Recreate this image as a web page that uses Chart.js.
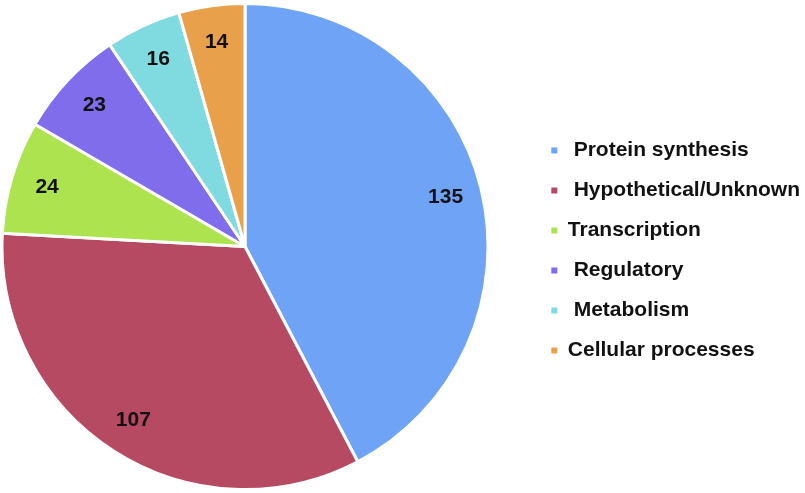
<!DOCTYPE html>
<html>
<head>
<meta charset="utf-8">
<script src="https://cdn.jsdelivr.net/npm/chart.js@4"></script>
<style>
  html, body { margin: 0; padding: 0; background: #fff; }
  #wrap { width: 805px; height: 493px; }
</style>
</head>
<body>
<div id="wrap"><canvas id="pieChart"></canvas></div>
<script>
const categories = [" Protein synthesis", " Hypothetical/Unknown", "Transcription", " Regulatory", " Metabolism", "Cellular processes"];
const counts = [135, 107, 24, 23, 16, 14];
const sliceColors = ["#6fa3f5", "#b54a62", "#ade34e", "#806dec", "#80dbe0", "#e8a04b"];

// slice value labels, drawn at ~85% of the radius
const sliceLabels = {
  id: "sliceLabels",
  afterDatasetsDraw(chart) {
    const ctx = chart.ctx;
    const meta = chart.getDatasetMeta(0);
    ctx.save();
    ctx.font = "bold 21px 'Liberation Sans', Arial, sans-serif";
    ctx.fillStyle = "#111";
    ctx.textAlign = "center";
    ctx.textBaseline = "middle";
    meta.data.forEach((arc, i) => {
      const p = arc.getProps(["x", "y", "startAngle", "endAngle", "outerRadius"], true);
      const mid = (p.startAngle + p.endAngle) / 2;
      const r = p.outerRadius * 0.85;
      ctx.fillText(String(counts[i]), p.x + Math.cos(mid) * r, p.y + Math.sin(mid) * r);
    });
    ctx.restore();
  }
};

// keep the pie on the left part of the canvas, nudge the legend a bit
const pieArea = {
  id: "pieArea",
  afterLayout(chart) {
    const ca = chart.chartArea;
    ca.left = 0;
    ca.right = 490;
    ca.width = 490;
    chart.legend.top += 4;
    chart.legend.bottom += 4;
    chart.legend.left += 5;
    chart.legend.right += 5;
  }
};

const pieChart = new Chart(document.getElementById("pieChart"), {
  type: "pie",
  data: {
    labels: categories,
    datasets: [{
      data: counts,
      backgroundColor: sliceColors,
      borderColor: "#ffffff",
      borderWidth: 3,
    }],
  },
  options: {
    responsive: true,
    maintainAspectRatio: false,
    animation: false,
    layout: { padding: { top: 2, bottom: 2, right: 0 } },
    plugins: {
      tooltip: { enabled: false },
      legend: {
        position: "right",
        labels: {
          boxWidth: 6,
          boxHeight: 6,
          padding: 19,
          color: "#111",
          font: { family: "'Liberation Sans', Arial, sans-serif", size: 21, weight: "bold" },
          generateLabels(chart) {
            const items = Chart.overrides.pie.plugins.legend.labels.generateLabels(chart);
            return items.map(it => ({ ...it, lineWidth: 0, strokeStyle: it.fillStyle }));
          },
        },
      },
    },
  },
  plugins: [pieArea, sliceLabels],
});
</script>
</body>
</html>
